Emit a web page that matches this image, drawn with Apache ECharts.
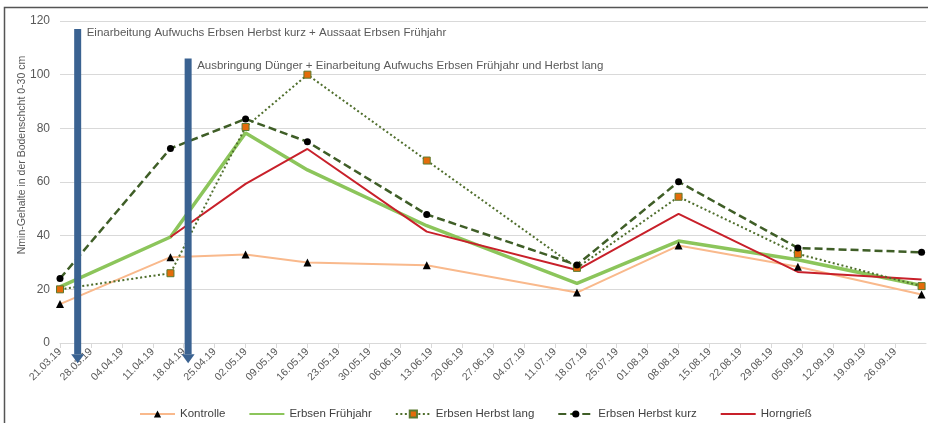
<!DOCTYPE html>
<html>
<head>
<meta charset="utf-8">
<script src="https://cdn.jsdelivr.net/npm/echarts@6.0.0/dist/echarts.min.js"></script>
<style>
    html, body { margin: 0; padding: 0; background: #fff; }
    #container { width: 928px; height: 423px; }
</style>
</head>
<body>
<div id="container"></div>
<script>
var startDate = '21.03.19';
var endDate = '03.10.19';
var sampleDates = ['21.03.19', '15.04.19', '02.05.19', '16.05.19', '12.06.19', '16.07.19', '08.08.19', '04.09.19', '02.10.19'];

var kontrolle = [14.5, 32, 33, 30, 29, 18.8, 36.3, 28.4, 18.1];
var erbsenFruehjahr = [20.9, 39.5, 78.3, 64.5, 43.7, 22.2, 38, 31, 21.4];
var erbsenHerbstLang = [20, 26, 80.5, 100, 68, 28, 54.5, 33.2, 21.2];
var erbsenHerbstKurz = [24, 72.5, 83.5, 75, 47.9, 29.1, 60.1, 35.4, 33.8];
var horngriess = [null, 39.5, 59.3, 72.3, 41.5, 27.2, 48.1, 26.5, 23.7];

var arrowDates = ['25.03.19', '19.04.19'];
var arrowTops = [117, 106];
var arrowBottom = -7.5;
var arrowNotes = [
    'Einarbeitung Aufwuchs Erbsen Herbst kurz + Aussaat Erbsen Frühjahr',
    'Ausbringung Dünger + Einarbeitung Aufwuchs Erbsen Frühjahr und Herbst lang'
];

var yTitle = 'Nmin-Gehalte in der Bodenschcht 0-30 cm';

function parseDate(s) {
    var p = s.split('.');
    return Date.UTC(2000 + (+p[2]), +p[1] - 1, +p[0]);
}
var DAY = 86400000;
var t0 = parseDate(startDate);
function dayOf(s) {
    return Math.round((parseDate(s) - t0) / DAY);
}
function fmt(day) {
    var d = new Date(t0 + day * DAY);
    var dd = ('0' + d.getUTCDate()).slice(-2);
    var mm = ('0' + (d.getUTCMonth() + 1)).slice(-2);
    var yy = ('0' + (d.getUTCFullYear() % 100)).slice(-2);
    return dd + '.' + mm + '.' + yy;
}
function pairs(values) {
    return values.map(function(v, i) {
        return [dayOf(sampleDates[i]), v];
    });
}

var arrowData = arrowDates.map(function(d, i) {
    return [dayOf(d), arrowTops[i], arrowBottom, i];
});

var font = '"Liberation Sans", Arial, sans-serif';
var arrowColor = '#3a6291';

var dom = document.getElementById('container');
var myChart = echarts.init(dom);

var option = {
    backgroundColor: '#fff',
    animation: false,
    textStyle: { fontFamily: font },
    grid: {
        left: 60,
        right: 2,
        top: 21,
        bottom: 80
    },
    legend: {
        left: 134,
        top: 403,
        itemWidth: 35,
        itemHeight: 9,
        itemGap: 23,
        textStyle: { fontSize: 11.5, color: '#404040', fontFamily: font },
        data: [
            'Kontrolle',
            { name: 'Erbsen Frühjahr', itemStyle: { opacity: 0 } },
            'Erbsen Herbst lang',
            'Erbsen Herbst kurz',
            { name: 'Horngrieß', itemStyle: { opacity: 0 } }
        ]
    },
    xAxis: {
        type: 'value',
        min: 0,
        max: dayOf(endDate),
        interval: 7,
        splitLine: { show: false },
        axisLine: { show: true, lineStyle: { color: '#d9d9d9' } },
        axisTick: { show: true, length: 5, lineStyle: { color: '#d9d9d9' } },
        axisLabel: {
            rotate: 45,
            fontSize: 10.5,
            color: '#595959',
            margin: 7,
            showMaxLabel: false,
            formatter: function(v) { return fmt(v); }
        }
    },
    yAxis: {
        type: 'value',
        min: 0,
        max: 120,
        interval: 20,
        axisLine: { show: false },
        axisTick: { show: false },
        splitLine: { lineStyle: { color: '#d9d9d9', width: 1 } },
        axisLabel: { fontSize: 12, color: '#595959', margin: 10 }
    },
    graphic: [{
        type: 'rect',
        shape: { x: 4.5, y: 7.5, width: 1000, height: 1000 },
        style: { fill: 'none', stroke: '#555', lineWidth: 1.5 },
        silent: true
    }, {
        type: 'text',
        x: 22,
        y: 155,
        rotation: Math.PI / 2,
        style: {
            text: yTitle,
            fill: '#595959',
            font: '10.5px ' + font,
            align: 'center',
            verticalAlign: 'middle'
        },
        silent: true
    }],
    series: [{
        name: 'Kontrolle',
        type: 'line',
        data: pairs(kontrolle),
        symbol: 'triangle',
        symbolSize: 8,
        itemStyle: { color: '#000' },
        lineStyle: { color: '#f9b98c', width: 2 },
        z: 3
    }, {
        name: 'Erbsen Frühjahr',
        type: 'line',
        data: pairs(erbsenFruehjahr),
        symbol: 'none',
        itemStyle: { color: '#8cc55b' },
        lineStyle: { color: '#8cc55b', width: 3.5 },
        z: 2
    }, {
        name: 'Erbsen Herbst lang',
        type: 'line',
        data: pairs(erbsenHerbstLang),
        symbol: 'rect',
        symbolSize: 7,
        itemStyle: { color: '#e46c0a', borderColor: '#5b7a30', borderWidth: 1 },
        lineStyle: { color: '#4f6e2c', width: 2, type: [2, 2.5] },
        z: 4
    }, {
        name: 'Erbsen Herbst kurz',
        type: 'line',
        data: pairs(erbsenHerbstKurz),
        symbol: 'circle',
        symbolSize: 7,
        itemStyle: { color: '#000' },
        lineStyle: { color: '#3f5e27', width: 2.5, type: [8, 4] },
        z: 5
    }, {
        name: 'Horngrieß',
        type: 'line',
        data: pairs(horngriess),
        symbol: 'none',
        itemStyle: { color: '#c8202a' },
        lineStyle: { color: '#c8202a', width: 2 },
        z: 3
    }, {
        type: 'custom',
        clip: false,
        silent: true,
        z: 10,
        encode: { x: 0, y: [1, 2] },
        data: arrowData,
        renderItem: function(params, api) {
            var top = api.coord([api.value(0), api.value(1)]);
            var bot = api.coord([api.value(0), api.value(2)]);
            var w = 7, hw = 6.5, hh = 9;
            return {
                type: 'group',
                children: [{
                    type: 'rect',
                    shape: { x: top[0] - w / 2, y: top[1], width: w, height: bot[1] - hh - top[1] },
                    style: { fill: arrowColor }
                }, {
                    type: 'polygon',
                    shape: { points: [[bot[0] - hw, bot[1] - hh], [bot[0] + hw, bot[1] - hh], [bot[0], bot[1]]] },
                    style: { fill: arrowColor }
                }, {
                    type: 'text',
                    x: top[0] + 9,
                    y: top[1] + 4 + api.value(3) * 3,
                    style: {
                        text: arrowNotes[api.value(3)],
                        fill: '#595959',
                        font: '11.5px ' + font,
                        verticalAlign: 'middle'
                    }
                }]
            };
        }
    }]
};

myChart.setOption(option);

window.addEventListener('resize', function() {
    myChart.resize();
});
</script>
</body>
</html>
